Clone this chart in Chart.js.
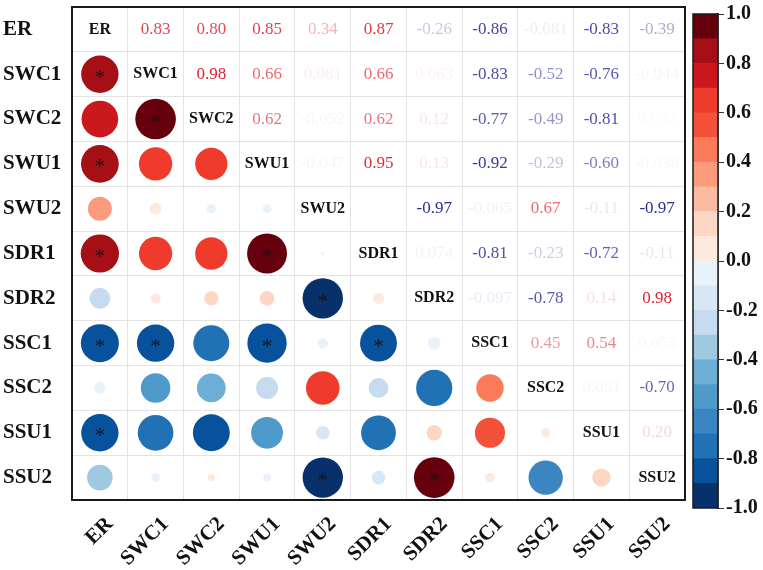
<!DOCTYPE html>
<html lang="en">

<head>
    <meta charset="UTF-8">
    <title>Correlation matrix</title>
    <script src="https://cdn.jsdelivr.net/npm/chart.js"></script>
    <style>
        body {
            margin: 0;
            background: #FFFFFF;
        }

        #mainChart {
            position: absolute;
            left: 0;
            top: 0;
        }

        #barChart {
            position: absolute;
            left: 688px;
            top: 0;
        }
    </style>
</head>

<body>
    <canvas id="mainChart" width="688" height="570"></canvas>
    <canvas id="barChart" width="75" height="570"></canvas>

    <script>
        // variable names (rows top to bottom, columns left to right)
        let names = ['ER', 'SWC1', 'SWC2', 'SWU1', 'SWU2', 'SDR1', 'SDR2', 'SSC1', 'SSC2', 'SSU1', 'SSU2'];

        // correlation matrix, one row per variable
        let corrER   = [1, 0.83, 0.80, 0.85, 0.34, 0.87, -0.26, -0.86, -0.081, -0.83, -0.39];
        let corrSWC1 = [0.83, 1, 0.98, 0.66, 0.081, 0.66, 0.063, -0.83, -0.52, -0.76, -0.044];
        let corrSWC2 = [0.80, 0.98, 1, 0.62, -0.052, 0.62, 0.12, -0.77, -0.49, -0.81, 0.032];
        let corrSWU1 = [0.85, 0.66, 0.62, 1, -0.047, 0.95, 0.13, -0.92, -0.29, -0.60, -0.036];
        let corrSWU2 = [0.34, 0.081, -0.052, -0.047, 1, 0.005, -0.97, -0.065, 0.67, -0.11, -0.97];
        let corrSDR1 = [0.87, 0.66, 0.62, 0.95, 0.005, 1, 0.074, -0.81, -0.23, -0.72, -0.11];
        let corrSDR2 = [-0.26, 0.063, 0.12, 0.13, -0.97, 0.074, 1, -0.097, -0.78, 0.14, 0.98];
        let corrSSC1 = [-0.86, -0.83, -0.77, -0.92, -0.065, -0.81, -0.097, 1, 0.45, 0.54, 0.053];
        let corrSSC2 = [-0.081, -0.52, -0.49, -0.29, 0.67, -0.23, -0.78, 0.45, 1, 0.051, -0.70];
        let corrSSU1 = [-0.83, -0.76, -0.81, -0.60, -0.11, -0.72, 0.14, 0.54, 0.051, 1, 0.20];
        let corrSSU2 = [-0.39, -0.044, 0.032, -0.036, -0.97, -0.11, 0.98, 0.053, -0.70, 0.20, 1];
        let corr = [corrER, corrSWC1, corrSWC2, corrSWU1, corrSWU2, corrSDR1, corrSDR2, corrSSC1, corrSSC2, corrSSU1, corrSSU2];

        // significant pairs (row, column) marked with *
        let signif = [
            ['SWC1', 'ER'], ['SWC2', 'SWC1'], ['SWU1', 'ER'], ['SDR1', 'ER'], ['SDR1', 'SWU1'],
            ['SDR2', 'SWU2'], ['SSC1', 'ER'], ['SSC1', 'SWC1'], ['SSC1', 'SWU1'], ['SSC1', 'SDR1'],
            ['SSU1', 'ER'], ['SSU2', 'SWU2'], ['SSU2', 'SDR2']
        ];

        // colour bar: ticks and one colour per 0.1 step, from -1.0 up to 1.0
        let barTicks = [-1.0, -0.8, -0.6, -0.4, -0.2, 0.0, 0.2, 0.4, 0.6, 0.8, 1.0];
        let binColors = [
            '#08306b', '#08519c', '#2171b5', '#3a85c2', '#4e9acb', '#6baed6', '#9ecae1', '#c6dbef', '#d8e7f5', '#e9f2fb',
            '#fee9df', '#fdd6c4', '#fcbba1', '#fc9a7c', '#fb7a5a', '#f4513a', '#ef3b2c', '#cb181d', '#a50f15', '#67000d'
        ];

        function colorFor(v) {
            let a = Math.abs(v);
            let k = Math.min(Math.floor(a * 10 - 1e-3), 9);
            if (k === 9 && a < 0.94) k = 8; // only the strongest ones get the darkest shade
            if (k < 0) k = 0;
            return v < 0 ? binColors[9 - k] : binColors[10 + k];
        }

        function textColor(v) {
            let a = Math.abs(v);
            return v > 0 ? 'rgba(222,28,42,' + a + ')' : 'rgba(38,38,148,' + a + ')';
        }

        function fmt(v) {
            return Math.abs(v) < 0.1 ? v.toPrecision(2) : v.toFixed(2);
        }

        // lower triangle -> circles
        let circles = [];
        for (let i = 0; i < names.length; i++) {
            for (let j = 0; j < i; j++) {
                circles.push({ x: names[j], y: names[i], v: corr[i][j] });
            }
        }

        const serif = 'Liberation Serif';

        const matrixText = {
            id: 'matrixText',
            afterDatasetsDraw(chart) {
                const c = chart.ctx;
                const xs = chart.scales.x;
                const ys = chart.scales.y;
                c.save();
                c.textAlign = 'center';
                c.textBaseline = 'middle';
                for (let i = 0; i < names.length; i++) {
                    for (let j = i; j < names.length; j++) {
                        let px = xs.getPixelForValue(j);
                        let py = ys.getPixelForValue(i);
                        if (i === j) {
                            c.font = 'bold 16px "' + serif + '"';
                            c.fillStyle = '#111';
                            c.fillText(names[i], px, py);
                        } else {
                            c.font = '17px "' + serif + '"';
                            c.fillStyle = textColor(corr[i][j]);
                            c.fillText(fmt(corr[i][j]), px, py);
                        }
                    }
                }
                // stars
                c.font = '21px "' + serif + '"';
                c.fillStyle = 'rgba(20,20,20,0.9)';
                signif.forEach(function (p) {
                    let px = xs.getPixelForValue(names.indexOf(p[1]));
                    let py = ys.getPixelForValue(names.indexOf(p[0]));
                    c.fillText('*', px, py + 4);
                });
                // frame
                const a = chart.chartArea;
                c.strokeStyle = '#1a1a1a';
                c.lineWidth = 2;
                c.strokeRect(a.left, a.top, a.right - a.left, a.bottom - a.top);
                c.restore();
            }
        };

        new Chart(document.getElementById('mainChart'), {
            type: 'bubble',
            data: {
                datasets: [{
                    data: circles,
                    radius: ctx => 20.5 * Math.sqrt(Math.abs(ctx.raw.v)),
                    backgroundColor: ctx => colorFor(ctx.raw.v),
                    borderWidth: 0,
                    hoverRadius: 0
                }]
            },
            options: {
                responsive: false,
                animation: false,
                events: [],
                layout: { autoPadding: false, padding: { left: 3, right: 3, top: 7, bottom: 0 } },
                plugins: { legend: { display: false }, tooltip: { enabled: false } },
                scales: {
                    x: {
                        type: 'category',
                        labels: names,
                        offset: true,
                        grid: { offset: true, color: '#e3e3e3', drawTicks: false },
                        border: { display: false },
                        ticks: {
                            minRotation: 45,
                            maxRotation: 45,
                            labelOffset: 10,
                            padding: 12,
                            color: '#111',
                            font: { family: serif, size: 21, weight: 'bold' }
                        },
                        afterFit: s => {
                            s.height = 70;
                            s.paddingLeft = 0;
                            s.paddingRight = 0;
                        }
                    },
                    y: {
                        type: 'category',
                        labels: names,
                        offset: true,
                        grid: { offset: true, color: '#e3e3e3', drawTicks: false },
                        border: { display: false },
                        ticks: {
                            crossAlign: 'far',
                            padding: 0,
                            color: '#111',
                            font: { family: serif, size: 21, weight: 'bold' }
                        },
                        afterFit: s => {
                            s.width = 69;
                            s.paddingTop = 0;
                            s.paddingBottom = 0;
                        }
                    }
                }
            },
            plugins: [matrixText]
        });

        // colour bar
        let bands = binColors.map((col, k) => ({
            data: [[-1 + k * 0.1, -1 + (k + 1) * 0.1]],
            backgroundColor: col,
            borderWidth: 0,
            barPercentage: 1,
            categoryPercentage: 1,
            grouped: false
        }));

        const barFrame = {
            id: 'barFrame',
            afterDatasetsDraw(chart) {
                const a = chart.chartArea;
                const c = chart.ctx;
                c.save();
                c.strokeStyle = '#1a1a1a';
                c.lineWidth = 1.5;
                c.strokeRect(a.left, a.top, a.right - a.left, a.bottom - a.top);
                c.restore();
            }
        };

        new Chart(document.getElementById('barChart'), {
            type: 'bar',
            data: { labels: [''], datasets: bands },
            options: {
                responsive: false,
                animation: false,
                events: [],
                layout: { padding: { left: 5, right: 0, top: 14, bottom: 62 } },
                plugins: { legend: { display: false }, tooltip: { enabled: false } },
                scales: {
                    x: { display: false },
                    y: {
                        type: 'linear',
                        position: 'right',
                        min: -1,
                        max: 1,
                        afterBuildTicks: s => { s.ticks = barTicks.map(v => ({ value: v })); },
                        grid: { drawOnChartArea: false, drawTicks: true, tickLength: 6, color: '#333' },
                        border: { display: true, color: '#1a1a1a', width: 1.5 },
                        ticks: {
                            padding: 2,
                            color: '#111',
                            font: { family: serif, size: 20, weight: 'bold' },
                            callback: v => (Math.abs(v) < 1e-9 ? 0 : v).toFixed(1)
                        },
                        afterFit: s => { s.width = 45; }
                    }
                }
            },
            plugins: [barFrame]
        });
    </script>
</body>

</html>
